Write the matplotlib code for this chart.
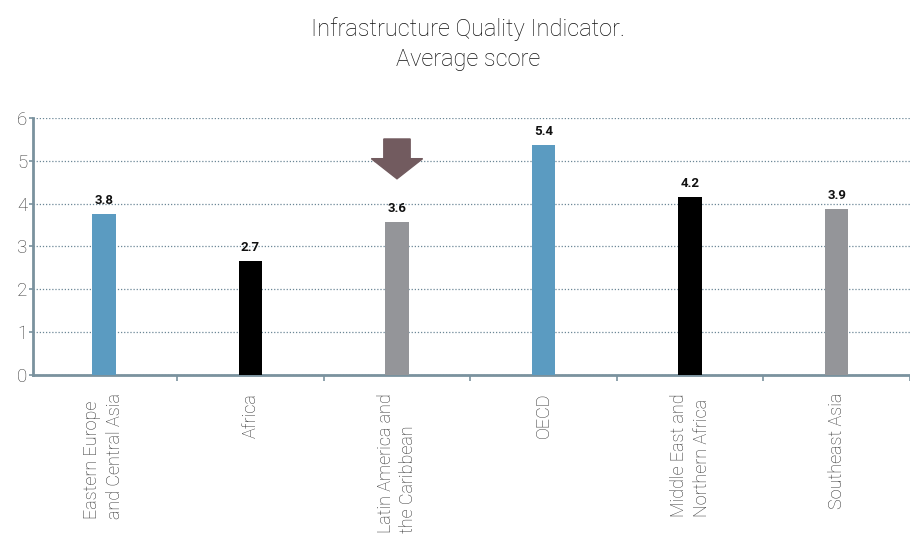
import matplotlib.pyplot as plt
from matplotlib.patches import Polygon
import numpy as np

regions = ['Eastern Europe\nand Central Asia', 'Africa', 'Latin America and\nthe Caribbean',
           'OECD', 'Middle East and\nNorthern Africa', 'Southeast Asia']
scores = [3.76, 2.66, 3.58, 5.36, 4.16, 3.87]
bar_colors = ['#5b9bc1', '#000000', '#949599', '#5b9bc1', '#000000', '#949599']
highlight = 2  # region marked with the arrow

plt.rcParams['font.family'] = ['Roboto', 'DejaVu Sans']

fig = plt.figure(figsize=(9.1, 5.39), dpi=100)
ax = fig.add_axes([0.0363, 0.3043, 0.9637, 0.4768])

x = np.arange(len(regions))
bars = ax.bar(x, scores, width=0.16, color=bar_colors, zorder=3)

# value labels above the bars
for xi, v in zip(x, scores):
    ax.annotate(f'{v:.1f}', (xi, v), xytext=(0, 5), textcoords='offset points',
                ha='center', va='bottom', fontsize=9.5, fontweight='bold', color='#111111')

# down arrow over the highlighted bar
tip = scores[highlight] + 1.0
top = scores[highlight] + 1.93
neck = scores[highlight] + 1.47
hw, sw = 0.175, 0.09
arrow = Polygon([(highlight - sw, top), (highlight + sw, top), (highlight + sw, neck),
                 (highlight + hw, neck), (highlight, tip), (highlight - hw, neck),
                 (highlight - sw, neck)], closed=True, color='#725b5f', zorder=4)
ax.add_patch(arrow)

ax.set_xlim(-0.483, 5.46)
ax.set_ylim(0, 6)
ax.set_yticks(range(0, 7))
ax.yaxis.grid(True, linestyle=(0, (1, 1.5)), color='#6b8796', linewidth=0.9, zorder=0)

ax.set_xticks(x + 0.5, minor=False)
ax.set_xticklabels([])
ax.tick_params(axis='x', direction='out', length=4, width=1.2, color='#7a929e')
for xi, name in zip(x, regions):
    ax.text(xi, -0.42, name, rotation=90, ha='center', va='top', multialignment='left',
            fontsize=13, fontweight='light', color='#2e2e2e', linespacing=1.35,
            transform=ax.transData, clip_on=False)

ax.tick_params(axis='y', direction='out', length=3, width=1.2, color='#7a929e',
               labelsize=13.5, labelcolor='#3a3a3a', pad=1)
for lab in ax.get_yticklabels():
    lab.set_fontweight('light')

for side in ['top', 'right']:
    ax.spines[side].set_visible(False)
for side in ['left', 'bottom']:
    ax.spines[side].set_color('#7a929e')
    ax.spines[side].set_linewidth(2)

fig.text(0.514, 0.918, 'Infrastructure Quality Indicator.\nAverage score', ha='center', va='center',
         fontsize=17, fontweight='light', color='#111111', linespacing=1.4)

fig.savefig('out.png', dpi=100)
